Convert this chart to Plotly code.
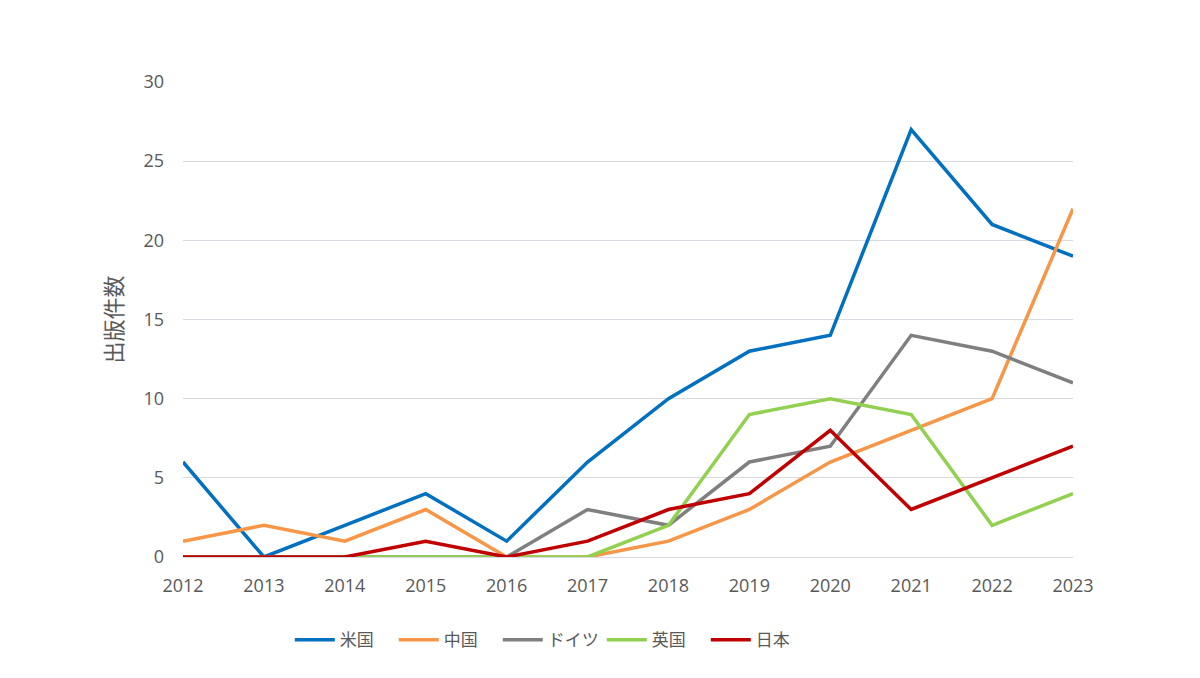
import plotly.graph_objects as go

years = [2012, 2013, 2014, 2015, 2016, 2017, 2018, 2019, 2020, 2021, 2022, 2023]
us = [6, 0, 2, 4, 1, 6, 10, 13, 14, 27, 21, 19]
china = [1, 2, 1, 3, 0, 0, 1, 3, 6, 8, 10, 22]
germany = [0, 0, 0, 0, 0, 3, 2, 6, 7, 14, 13, 11]
uk = [0, 0, 0, 0, 0, 0, 2, 9, 10, 9, 2, 4]
japan = [0, 0, 0, 1, 0, 1, 3, 4, 8, 3, 5, 7]

series = [
    ("米国", us, "#0070C0"),
    ("中国", china, "#F79646"),
    ("ドイツ", germany, "#7F7F7F"),
    ("英国", uk, "#92D050"),
    ("日本", japan, "#C00000"),
]

fig = go.Figure()
for name, vals, color in series:
    fig.add_trace(go.Scatter(x=years, y=vals, mode="lines", name=name,
                             line=dict(color=color, width=3.5)))

font_family = "Open Sans, Noto Sans CJK JP, sans-serif"
fig.update_layout(
    width=1200, height=678,
    paper_bgcolor="white", plot_bgcolor="white",
    margin=dict(l=175, r=135, t=74, b=129, autoexpand=False),
    font=dict(family=font_family, size=18, color="#595959"),
    showlegend=True,
    legend=dict(orientation="h", x=0.12, xanchor="left", y=-0.175, yanchor="middle",
                font=dict(size=17, color="#595959", family="Noto Sans CJK JP, sans-serif"),
                itemwidth=40, tracegroupgap=0, entrywidth=49, entrywidthmode="pixels"),
    xaxis=dict(range=[2012, 2023], tickmode="array", tickvals=years,
               ticktext=[str(y) for y in years], showgrid=False, zeroline=False,
               showline=False, ticks="", ticklabelstandoff=16),
    yaxis=dict(range=[0, 30], tickvals=[0, 5, 10, 15, 20, 25, 30], showgrid=True,
               gridcolor="#DADAE0", gridwidth=1, zeroline=True, zerolinecolor="#D9D9E6",
               zerolinewidth=1, ticks="", ticklabelstandoff=18,
               title=dict(text="出版件数", font=dict(size=22, color="#595959",
                                                  family="Noto Sans CJK JP, sans-serif"),
                          standoff=14)),
)

fig.write_html("out.html")
